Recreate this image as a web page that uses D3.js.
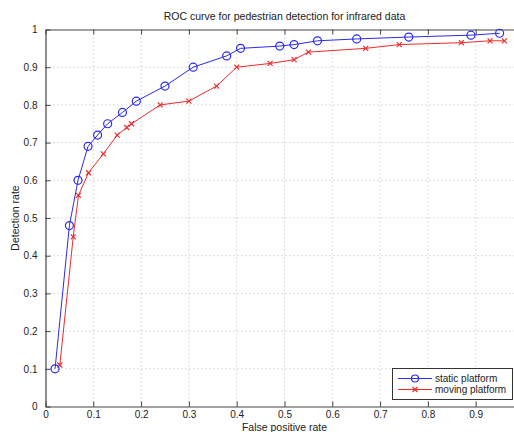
<!DOCTYPE html>
<html>
<head>
<meta charset="utf-8">
<script src="https://cdn.jsdelivr.net/npm/d3@7"></script>
<style>
  body { margin: 0; background: #fff; }
  svg text { font-family: "Liberation Sans", Arial, sans-serif; fill: #222; }
</style>
</head>
<body>
<div id="chart"></div>
<script>
// data
let seriesNames = ["static platform", "moving platform"];
let staticFpr = [0.02, 0.05, 0.068, 0.089, 0.109, 0.13, 0.161, 0.19, 0.25, 0.309, 0.379, 0.408, 0.49, 0.52, 0.569, 0.651, 0.76, 0.89, 0.95];
let staticTpr = [0.10, 0.48, 0.60, 0.69, 0.72, 0.75, 0.78, 0.81, 0.85, 0.90, 0.93, 0.95, 0.956, 0.96, 0.97, 0.975, 0.98, 0.985, 0.99];
let movingFpr = [0.03, 0.058, 0.069, 0.09, 0.121, 0.15, 0.17, 0.18, 0.24, 0.30, 0.358, 0.40, 0.47, 0.52, 0.55, 0.67, 0.74, 0.87, 0.93, 0.96];
let movingTpr = [0.11, 0.45, 0.56, 0.62, 0.67, 0.72, 0.74, 0.75, 0.80, 0.81, 0.85, 0.90, 0.91, 0.92, 0.94, 0.95, 0.96, 0.965, 0.97, 0.97];
let xTicks = [0, 0.1, 0.2, 0.3, 0.4, 0.5, 0.6, 0.7, 0.8, 0.9];
let yTicks = [0, 0.1, 0.2, 0.3, 0.4, 0.5, 0.6, 0.7, 0.8, 0.9, 1];

let width = 514, height = 432;
let margin = {left: 45.5, top: 29.5, right: -9.5, bottom: 25.5};
let blue = "#2a2af2", red = "#ee2b2b";

let svg = d3.select("#chart").append("svg")
  .attr("width", width).attr("height", height);

let x = d3.scaleLinear().domain([0, 1]).range([margin.left, width - margin.right]);
let y = d3.scaleLinear().domain([0, 1]).range([height - margin.bottom, margin.top]);

let fmt = d => d === 0 || d === 1 ? String(d) : d.toFixed(1);

// grid
let grid = svg.append("g").attr("class", "grid");
grid.selectAll(".gx").data(xTicks.slice(1)).enter().append("line")
  .attr("x1", d => x(d)).attr("x2", d => x(d))
  .attr("y1", y(0)).attr("y2", y(1))
  .attr("stroke", "#a8a8a8").attr("stroke-width", 0.8).attr("stroke-dasharray", "1,3");
grid.selectAll(".gy").data(yTicks.slice(1, -1)).enter().append("line")
  .attr("x1", x(0)).attr("x2", x(1))
  .attr("y1", d => y(d)).attr("y2", d => y(d))
  .attr("stroke", "#a8a8a8").attr("stroke-width", 0.8).attr("stroke-dasharray", "1,3");

// axes
let axisColor = "#444";
let axB = svg.append("g").attr("transform", "translate(0," + y(0) + ")")
  .call(d3.axisBottom(x).tickValues(xTicks).tickFormat(fmt).tickSizeInner(-5).tickSizeOuter(0).tickPadding(4));
let axT = svg.append("g").attr("transform", "translate(0," + y(1) + ")")
  .call(d3.axisTop(x).tickValues(xTicks).tickFormat("").tickSizeInner(-5).tickSizeOuter(0));
let axL = svg.append("g").attr("transform", "translate(" + x(0) + ",0)")
  .call(d3.axisLeft(y).tickValues(yTicks).tickFormat(fmt).tickSizeInner(-5).tickSizeOuter(0).tickPadding(8));
[axB, axT, axL].forEach(a => {
  a.select(".domain").attr("stroke", axisColor).attr("stroke-width", 1.2);
  a.selectAll(".tick line").attr("stroke", axisColor);
  a.selectAll(".tick text").style("font-size", "10px").attr("fill", "#222");
});

// series
let line = d3.line().x(d => x(d[0])).y(d => y(d[1]));
let staticPts = staticFpr.map((v, i) => [v, staticTpr[i]]);
let movingPts = movingFpr.map((v, i) => [v, movingTpr[i]]);

svg.append("path").datum(movingPts).attr("d", line)
  .attr("fill", "none").attr("stroke", red).attr("stroke-width", 1);
svg.append("path").datum(staticPts).attr("d", line)
  .attr("fill", "none").attr("stroke", blue).attr("stroke-width", 1);

function cross(g, cx, cy, s, col) {
  g.append("path")
    .attr("d", `M${cx - s},${cy - s}L${cx + s},${cy + s}M${cx - s},${cy + s}L${cx + s},${cy - s}`)
    .attr("stroke", col).attr("stroke-width", 1.2).attr("fill", "none");
}

let mk = svg.append("g");
movingPts.forEach(d => cross(mk, x(d[0]), y(d[1]), 2.5, red));
mk.selectAll("circle").data(staticPts).enter().append("circle")
  .attr("cx", d => x(d[0])).attr("cy", d => y(d[1])).attr("r", 4)
  .attr("fill", "none").attr("stroke", blue).attr("stroke-width", 1.2);

// labels
svg.append("text").attr("x", x(0.5)).attr("y", 20).attr("text-anchor", "middle")
  .style("font-size", "10.5px").text("ROC curve for pedestrian detection for infrared data");
svg.append("text").attr("x", x(0.5)).attr("y", 430.5).attr("text-anchor", "middle")
  .style("font-size", "10.5px").text("False positive rate");
svg.append("text").attr("transform", "translate(19," + y(0.5) + ") rotate(-90)")
  .attr("text-anchor", "middle").style("font-size", "10.5px").text("Detection rate");

// legend
let lg = svg.append("g");
lg.append("rect").attr("x", 392.5).attr("y", 368.5).attr("width", 120).attr("height", 31)
  .attr("fill", "#fff").attr("stroke", "#333").attr("stroke-width", 1);
let cols = [blue, red];
seriesNames.forEach((name, i) => {
  let ly = 378.5 + i * 11;
  lg.append("line").attr("x1", 398).attr("x2", 432).attr("y1", ly).attr("y2", ly)
    .attr("stroke", cols[i]).attr("stroke-width", 1);
  if (i === 0) {
    lg.append("circle").attr("cx", 415).attr("cy", ly).attr("r", 3.5)
      .attr("fill", "none").attr("stroke", blue).attr("stroke-width", 1.2);
  } else {
    cross(lg, 415, ly, 2.5, red);
  }
  lg.append("text").attr("x", 435).attr("y", ly + 3.5).style("font-size", "10px").text(name);
});
</script>
</body>
</html>
